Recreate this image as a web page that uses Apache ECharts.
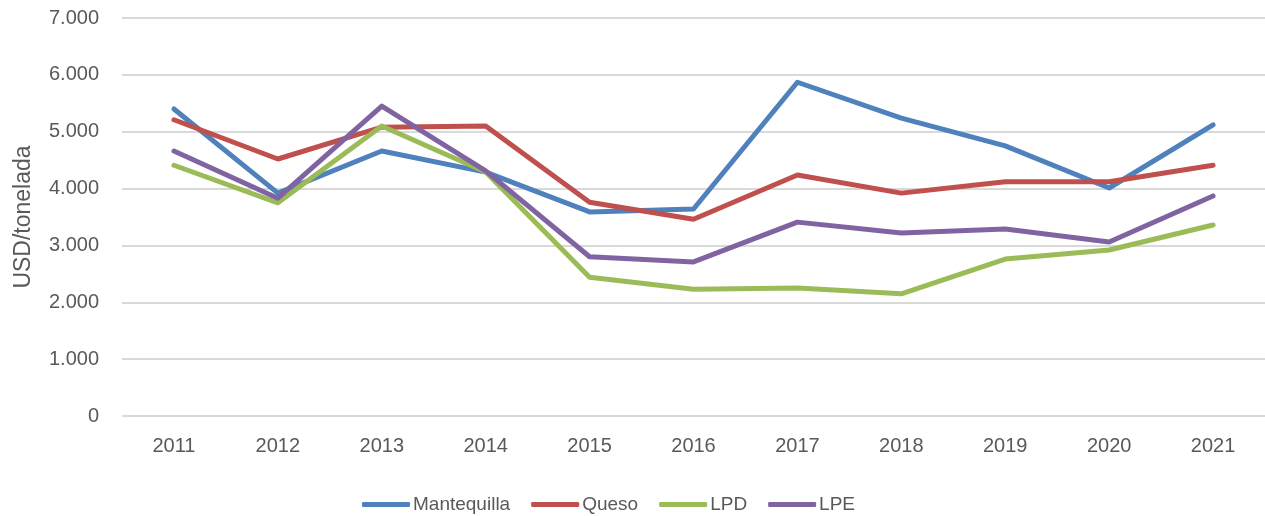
<!DOCTYPE html>
<html>
<head>
<meta charset="utf-8">
<script src="https://cdn.jsdelivr.net/npm/echarts@6/dist/echarts.min.js"></script>
<style>
  html, body { margin: 0; padding: 0; background: #fff; }
  #chart { width: 1265px; height: 516px; }
</style>
</head>
<body>
<div id="chart"></div>
<script>
var years = ['2011', '2012', '2013', '2014', '2015', '2016', '2017', '2018', '2019', '2020', '2021'];
var mantequilla = [5400, 3920, 4660, 4290, 3590, 3640, 5870, 5240, 4750, 4010, 5120];
var queso = [5210, 4520, 5080, 5100, 3760, 3460, 4240, 3920, 4120, 4120, 4410];
var lpd = [4410, 3750, 5100, 4290, 2440, 2230, 2250, 2150, 2760, 2920, 3360];
var lpe = [4660, 3830, 5450, 4310, 2800, 2710, 3410, 3220, 3290, 3060, 3870];

var font = '"Liberation Sans", Arial, sans-serif';
var txt = '#595959';

// 7000 -> 7.000
function fmt(v) {
  return String(v).replace(/\B(?=(\d{3})+(?!\d))/g, '.');
}

function line(name, data, color) {
  return {
    name: name,
    type: 'line',
    data: data,
    symbol: 'none',
    lineStyle: { width: 5, color: color, cap: 'round', join: 'round' },
    itemStyle: { color: color }
  };
}

var chart = echarts.init(document.getElementById('chart'));
chart.setOption({
  animation: false,
  textStyle: { fontFamily: font },
  grid: { left: 122, right: 0, top: 18, bottom: 100, outerBoundsMode: 'none', containLabel: false },
  legend: {
    left: 357,
    top: 490,
    itemWidth: 48,
    itemHeight: 5,
    itemGap: 21,
    icon: 'roundRect',
    textStyle: { fontSize: 19, color: txt, padding: [0, 0, 0, -2] },
    data: ['Mantequilla', 'Queso', 'LPD', 'LPE']
  },
  xAxis: {
    type: 'category',
    data: years,
    boundaryGap: true,
    axisLine: { show: false },
    axisTick: { show: false },
    axisLabel: { fontSize: 20, color: txt, margin: 20 }
  },
  yAxis: {
    type: 'value',
    min: 0,
    max: 7000,
    interval: 1000,
    name: 'USD/tonelada',
    nameLocation: 'middle',
    nameGap: 87,
    nameRotate: 90,
    nameTextStyle: { fontSize: 23, color: txt },
    axisLine: { show: false },
    axisTick: { show: false },
    axisLabel: { fontSize: 20, color: txt, margin: 23, formatter: fmt },
    splitLine: { lineStyle: { color: '#d9d9d9', width: 2 } }
  },
  series: [
    line('Mantequilla', mantequilla, '#4F81BD'),
    line('Queso', queso, '#C0504D'),
    line('LPD', lpd, '#9BBB59'),
    line('LPE', lpe, '#8064A2')
  ]
});
</script>
</body>
</html>
